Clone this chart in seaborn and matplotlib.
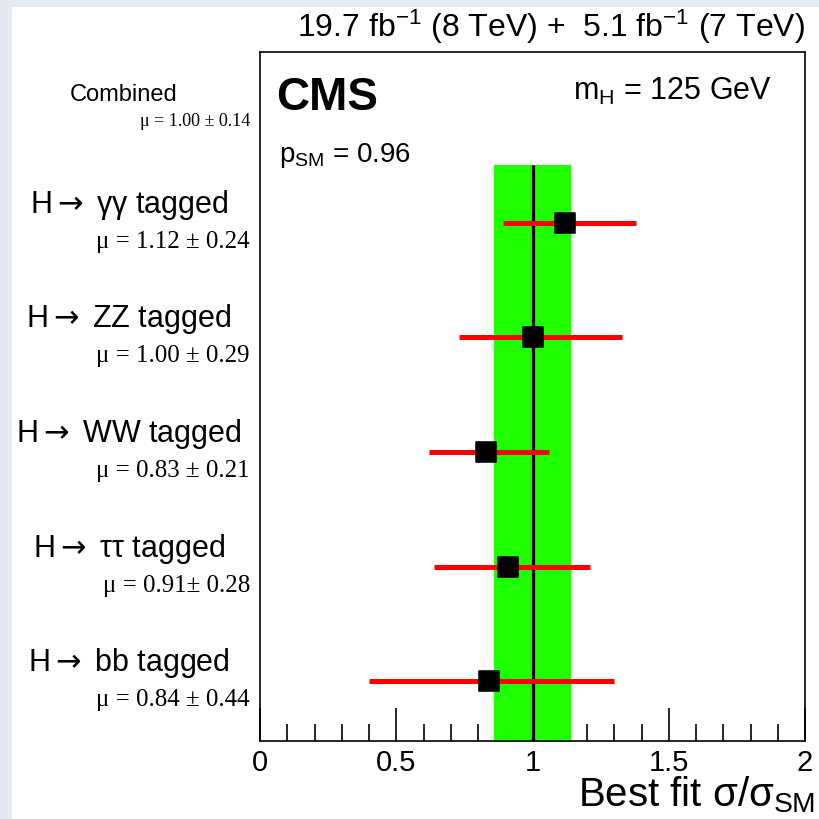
import matplotlib
matplotlib.use("Agg")
import matplotlib.pyplot as plt
from matplotlib.patches import Rectangle
from matplotlib.ticker import MultipleLocator
import numpy as np
import pandas as pd
import seaborn as sns

# data
channels = ["H$\\mathsf{\\rightarrow}$ γγ tagged", "H$\\mathsf{\\rightarrow}$ ZZ tagged",
            "H$\\mathsf{\\rightarrow}$ WW tagged", "H$\\mathsf{\\rightarrow}$ ττ tagged",
            "H$\\mathsf{\\rightarrow}$ bb tagged"]
mu_labels = ["μ = 1.12 ± 0.24", "μ = 1.00 ± 0.29", "μ = 0.83 ± 0.21",
             "μ = 0.91± 0.28", "μ = 0.84 ± 0.44"]
best_fit = [1.12, 1.00, 0.83, 0.91, 0.84]
err_low = [0.89, 0.73, 0.62, 0.64, 0.40]
err_high = [1.38, 1.33, 1.06, 1.21, 1.30]
row = [1, 2, 3, 4, 5]
tick_vals = [0, 0.5, 1, 1.5, 2]
tick_text = ["0", "0.5", "1", "1.5", "2"]

combined_mu = 1.00
combined_err = 0.14

sns.set_theme(style="white")
plt.rcParams["font.family"] = ["Liberation Sans", "DejaVu Sans"]
plt.rcParams["mathtext.fontset"] = "custom"
plt.rcParams["mathtext.rm"] = "Liberation Sans"
plt.rcParams["mathtext.it"] = "Liberation Sans"
plt.rcParams["mathtext.sf"] = "DejaVu Sans"
plt.rcParams["text.color"] = "black"
plt.rcParams["xtick.color"] = "black"
plt.rcParams["axes.labelcolor"] = "black"

df = pd.DataFrame({"mu": best_fit, "lo": err_low, "hi": err_high, "row": row})

fig = plt.figure(figsize=(8.19, 8.19), dpi=100, facecolor="#e4e9f2")
fig.patches.append(Rectangle((12 / 819, 0), 1, 1 - 7 / 819, transform=fig.transFigure,
                             facecolor="white", edgecolor="none", zorder=-10))
ax = fig.add_axes([260 / 819, 78 / 819, 545 / 819, 689 / 819])

# combined band and SM line
ax.fill_betweenx([0.5, 5.6], combined_mu - combined_err, combined_mu + combined_err,
                 color="#1eff00", lw=0, zorder=1)
ax.vlines(combined_mu, 0.5, 5.6, color="black", lw=2.3, zorder=2)

ax.hlines(df["row"], df["lo"], df["hi"], color="#ff0000", lw=3.6, zorder=3)
sns.scatterplot(data=df, x="mu", y="row", marker="s", s=210, color="black",
                edgecolor="black", ax=ax, zorder=4, legend=False)

ax.set_xlim(0, 2)
ax.set_ylim(5.52, -0.49)
ax.set_yticks([])
ax.set_ylabel("")
ax.set_xlabel("")
ax.set_xticks(tick_vals)
ax.set_xticklabels(tick_text)
ax.xaxis.set_minor_locator(MultipleLocator(0.1))
ax.tick_params(axis="x", which="major", direction="in", length=24, width=1.2,
               labelsize=21, pad=6, bottom=True, colors="black")
ax.tick_params(axis="x", which="minor", direction="in", length=12, width=1.2, bottom=True)
for s in ax.spines.values():
    s.set_color("black")
    s.set_linewidth(1.2)

# left side labels
fig.text(124 / 819, 1 - 95 / 819, "Combined", ha="center", va="center", fontsize=17)
fig.text(250 / 819, 1 - 122 / 819, "μ = 1.00 ± 0.14", ha="right", va="center",
         fontsize=13, family=["Liberation Serif", "DejaVu Serif"])
for i in range(len(channels)):
    ax.annotate(channels[i], xy=(129 / 819, row[i]), xycoords=("figure fraction", "data"),
                xytext=(0, 18), textcoords="offset pixels", ha="center", va="center",
                fontsize=22)
    ax.annotate(mu_labels[i], xy=(0, row[i]), xycoords=("axes fraction", "data"),
                xytext=(-10, -19), textcoords="offset pixels", ha="right", va="center",
                fontsize=18, family=["Liberation Serif", "DejaVu Serif"])

# header texts
fig.text(805 / 819, 1 - 27 / 819, r"19.7 fb$^{-1}$ (8 TeV) +  5.1 fb$^{-1}$ (7 TeV)",
         ha="right", va="center", fontsize=23)
ax.text(0.03, 0.965, "CMS", transform=ax.transAxes, ha="left", va="top",
        fontsize=33, fontweight="bold")
ax.text(0.94, 0.965, r"m$_{\rm H}$ = 125 GeV", transform=ax.transAxes, ha="right",
        va="top", fontsize=22)
ax.text(0.035, 0.85, r"p$_{\rm SM}$ = 0.96", transform=ax.transAxes, ha="left",
        va="center", fontsize=20)
fig.text(815 / 819, 1 - 795 / 819, r"Best fit $\sigma/\sigma_{\rm SM}$", ha="right",
         va="center", fontsize=29)

fig.savefig("out.png", dpi=100, facecolor=fig.get_facecolor())
